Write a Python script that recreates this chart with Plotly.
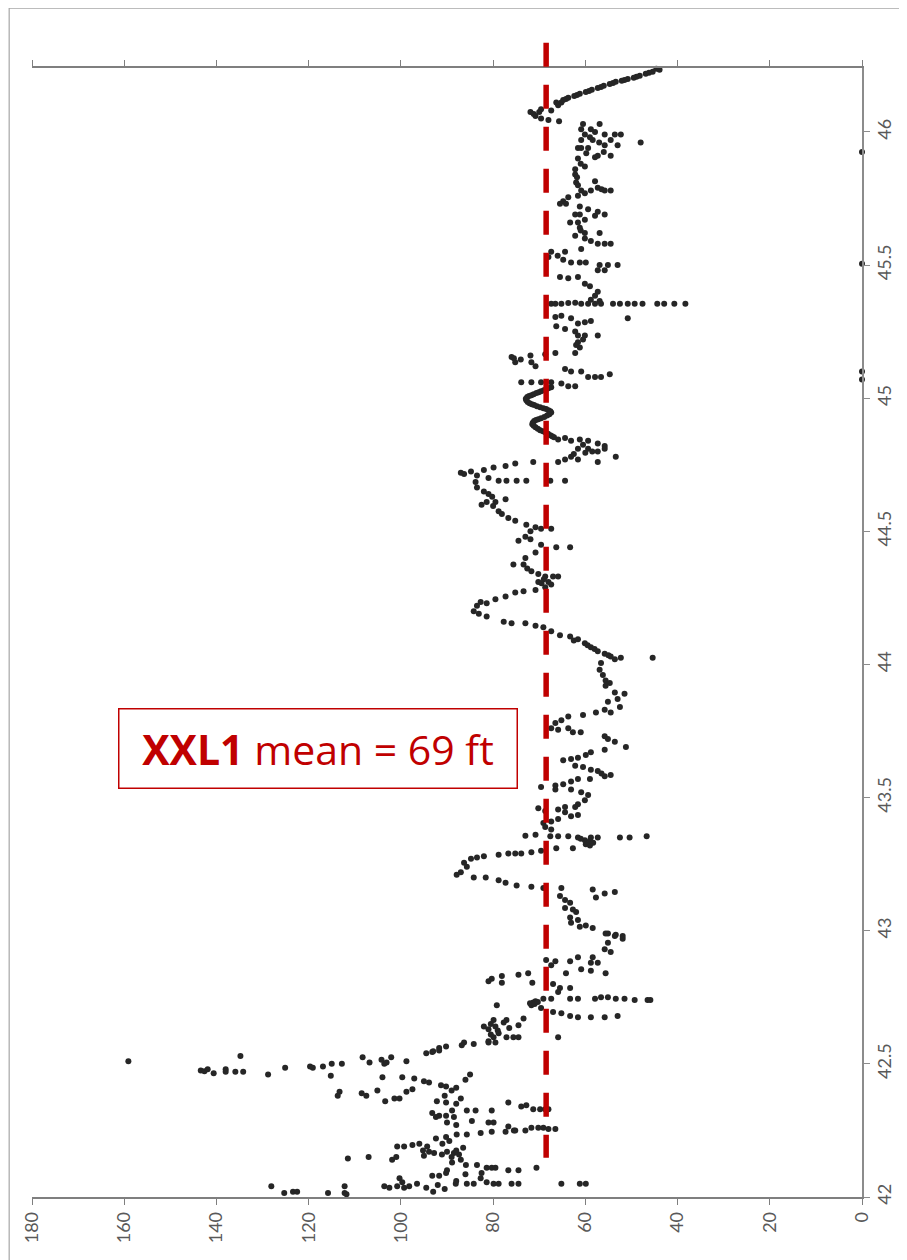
import plotly.graph_objects as go

# ---------------- data: (depth, value) pairs ----------------
TOP_CURVE = [(46.241, 42.4), (46.237, 44.6), (46.233, 43.9), (46.226, 45.4), (46.222, 46.2), (46.218, 46.9),
             (46.211, 48.2), (46.207, 48.9), (46.203, 49.5), (46.199, 50.8), (46.195, 51.5), (46.192, 52.1),
             (46.188, 53.4), (46.184, 54.0), (46.180, 54.7), (46.173, 56.0), (46.169, 56.6), (46.165, 57.3),
             (46.158, 58.6), (46.154, 59.2), (46.150, 59.9), (46.143, 61.2), (46.139, 61.8), (46.135, 62.4),
             (46.128, 63.7), (46.124, 64.2), (46.120, 64.8)]

UPPER_KINK = [(46.11, 65.2), (46.10, 65.9), (46.11, 66.3), (46.08, 67.4), (46.085, 69.6), (46.075, 70.0),
              (46.075, 71.9), (46.06, 70.8), (46.05, 69.6), (46.045, 68.0), (46.04, 65.7), (46.067, 71.2)]

UPPER_CLUSTER = [(46.03, 60.5), (46.01, 58.8), (46.03, 56.9), (46.01, 60.9), (45.99, 60.1), (46.0, 57.9),
                 (45.99, 55.8), (45.99, 53.6), (45.99, 52.3), (45.97, 54.5), (45.96, 48.0), (45.97, 60.9),
                 (45.97, 58.4), (45.94, 61.6), (45.94, 60.9), (45.94, 59.4), (45.95, 55.8), (45.91, 57.3),
                 (45.905, 57.9), (45.91, 54.5), (45.90, 61.6), (45.87, 60.1), (45.86, 62.2), (45.84, 62.2),
                 (45.81, 62.0), (45.80, 61.6), (45.815, 57.9), (45.78, 60.9), (45.78, 58.8), (45.79, 57.3),
                 (45.78, 55.8), (45.78, 54.5), (45.77, 60.1), (45.76, 61.6), (45.755, 63.7), (45.74, 64.8),
                 (45.73, 65.5), (45.73, 64.2), (45.72, 61.2), (45.71, 59.4), (45.70, 57.3), (45.69, 55.8),
                 (45.69, 62.2), (45.69, 61.2), (45.685, 57.9), (45.98, 59.0), (45.92, 59.8), (45.96, 57.0),
                 (45.88, 61.0), (45.83, 61.8), (45.785, 56.5), (45.925, 56.0), (45.95, 53.0)]

ZONE_45_5 = [(45.66, 63.3), (45.66, 61.6), (45.67, 60.1), (45.64, 61.2), (45.62, 60.1), (45.62, 56.9),
             (45.61, 62.2), (45.60, 60.1), (45.59, 58.8), (45.58, 57.3), (45.58, 55.8), (45.58, 54.5),
             (45.56, 60.9), (45.55, 67.4), (45.55, 64.4), (45.53, 68.0), (45.52, 64.8), (45.51, 63.1),
             (45.51, 61.2), (45.51, 59.9), (45.50, 56.9), (45.50, 55.1), (45.50, 53.0), (45.48, 57.3),
             (45.48, 55.8), (45.455, 65.5), (45.45, 63.7), (45.455, 61.6), (45.43, 60.1), (45.42, 59.0),
             (45.40, 57.3), (45.385, 57.9), (45.37, 58.8), (45.365, 56.9), (45.63, 61.0), (45.535, 66.0)]

STREAK_45_35 = [(45.355, 67.4), (45.355, 66.5), (45.355, 65.2), (45.357, 63.7), (45.358, 62.2), (45.355, 60.9),
                (45.355, 59.4), (45.355, 57.9), (45.355, 56.6), (45.355, 54.0), (45.355, 52.5), (45.355, 50.8),
                (45.355, 49.3), (45.355, 47.6), (45.355, 44.4), (45.355, 42.9), (45.355, 40.7), (45.355, 38.3)]

ZONE_45_2 = [(45.30, 50.8), (45.31, 65.2), (45.305, 66.5), (45.30, 63.1), (45.28, 61.6), (45.285, 60.1),
             (45.29, 58.8), (45.27, 66.3), (45.26, 64.4), (45.25, 62.2), (45.235, 61.6), (45.235, 60.1),
             (45.235, 57.3), (45.21, 61.6), (45.19, 61.2), (45.17, 62.2), (45.165, 68.7), (45.17, 66.5),
             (45.155, 76.0), (45.135, 75.2), (45.16, 71.9), (45.135, 71.7), (45.12, 70.8), (45.22, 60.5),
             (45.2, 62.0), (45.15, 75.5), (45.145, 74.0),
             (45.11, 64.4), (45.10, 63.1), (45.10, 60.9), (45.08, 59.4), (45.08, 57.9), (45.08, 56.6),
             (45.09, 54.7), (45.06, 73.9), (45.06, 71.7), (45.06, 69.6), (45.06, 67.4), (45.055, 65.2),
             (45.045, 63.7), (45.045, 62.2)]

WAVE_45 = [(45.041, 67.4), (45.0375, 68.0), (45.034, 68.5), (45.030, 69.0), (45.026, 69.6), (45.022, 70.1),
           (45.019, 70.6), (45.015, 71.2), (45.011, 71.7), (45.008, 72.2), (45.004, 72.6), (44.998, 72.9),
           (44.992, 72.8), (44.986, 72.5), (44.981, 72.1), (44.977, 71.6), (44.974, 71.1), (44.970, 70.5),
           (44.966, 69.8), (44.962, 69.1), (44.959, 68.5), (44.955, 68.0), (44.951, 67.6), (44.946, 67.4),
           (44.940, 67.8), (44.935, 68.3), (44.929, 68.9), (44.925, 69.6), (44.921, 70.2), (44.918, 70.7),
           (44.914, 71.1), (44.908, 71.4), (44.902, 71.5), (44.896, 71.2), (44.891, 70.8), (44.885, 70.3),
           (44.880, 69.8), (44.876, 69.2), (44.872, 68.7), (44.866, 68.1), (44.861, 67.6), (44.857, 67.2),
           (44.853, 66.8)]

ZONE_44_8 = [(44.845, 65.9), (44.85, 64.4), (44.84, 63.1), (44.845, 61.2), (44.84, 59.4), (44.83, 57.3),
             (44.82, 55.8), (44.81, 61.6), (44.81, 59.4), (44.80, 57.3), (44.81, 55.8), (44.78, 53.4),
             (44.77, 64.4), (44.78, 63.1), (44.77, 61.6), (44.76, 57.3), (44.76, 65.9), (44.76, 71.3),
             (44.755, 75.2), (44.745, 77.3), (44.74, 79.9), (44.73, 82.0), (44.725, 84.8), (44.72, 87.0),
             (44.715, 86.3), (44.71, 83.5), (44.70, 81.0), (44.69, 78.8), (44.69, 77.1), (44.69, 74.9),
             (44.69, 72.8), (44.69, 67.6), (44.69, 64.4), (44.795, 60.0), (44.825, 60.5), (44.79, 62.5),
             (44.80, 58.5)]

ZIGZAG_44_4 = [(44.685, 83.8), (44.665, 83.5), (44.65, 82.0), (44.64, 81.0), (44.61, 79.5), (44.62, 77.3),
               (44.61, 81.4), (44.60, 82.5), (44.575, 78.8), (44.565, 78.1), (44.55, 76.7), (44.54, 75.2),
               (44.525, 72.8), (44.515, 70.8), (44.51, 69.6), (44.51, 67.4), (44.50, 71.9), (44.48, 73.0),
               (44.465, 74.5), (44.47, 71.9), (44.45, 69.6), (44.44, 66.3), (44.44, 63.3), (44.42, 70.8),
               (44.40, 73.0), (44.375, 75.6), (44.375, 73.4), (44.35, 71.7), (44.34, 70.2), (44.33, 68.7),
               (44.33, 67.0), (44.31, 68.0), (44.33, 65.9), (44.31, 70.2), (44.30, 67.4), (44.29, 68.7),
               (44.28, 70.8), (44.275, 73.4), (44.27, 75.2), (44.255, 77.3), (44.245, 79.5), (44.23, 81.4),
               (44.235, 82.7), (44.22, 83.5), (44.20, 84.2), (44.19, 83.1), (44.18, 81.4), (44.16, 77.7),
               (44.155, 76.0), (44.155, 73.0), (44.145, 70.8), (44.14, 69.1), (44.125, 67.4), (44.11, 65.5),
               (44.105, 63.3), (44.095, 61.6), (44.08, 60.1), (44.065, 58.8), (44.05, 57.3), (44.04, 55.8),
               (44.03, 54.5), (44.02, 53.6), (44.025, 52.3), (44.025, 45.4), (44.32, 69.0), (44.305, 69.5),
               (44.595, 80.0), (44.63, 80.2), (44.36, 72.6), (44.09, 62.5), (44.072, 59.5), (44.058, 58.0),
               (44.035, 55.0)]

ZONE_43_5 = [(44.005, 56.6), (43.98, 56.9), (43.96, 56.2), (43.94, 55.6), (43.93, 54.7), (43.92, 55.6),
             (43.895, 53.6), (43.89, 51.5), (43.87, 53.0), (43.86, 55.1), (43.83, 55.8), (43.82, 54.5),
             (43.84, 52.5), (43.82, 57.7), (43.81, 60.5), (43.805, 63.7), (43.79, 65.2), (43.78, 66.5),
             (43.76, 67.4), (43.755, 65.9), (43.76, 63.7), (43.745, 62.7), (43.73, 55.8), (43.72, 55.1),
             (43.71, 53.6), (43.69, 51.2), (43.68, 55.8), (43.67, 58.8), (43.66, 59.9), (43.65, 61.6),
             (43.645, 63.1), (43.64, 64.8), (43.62, 62.2), (43.615, 60.5), (43.605, 58.8), (43.60, 57.3),
             (43.58, 55.8), (43.585, 54.5), (43.57, 59.0), (43.57, 61.6), (43.56, 63.1), (43.55, 64.8),
             (43.545, 66.5), (43.54, 69.6), (43.53, 66.5), (43.53, 63.1), (43.52, 60.9), (43.51, 59.4),
             (43.49, 60.1), (43.475, 61.6), (43.465, 62.2), (43.465, 64.4), (43.455, 65.9), (43.46, 70.2),
             (43.45, 68.7), (43.445, 64.4), (43.43, 63.1), (43.435, 61.6), (43.42, 65.9), (43.41, 67.4),
             (43.405, 69.1), (43.39, 68.7), (43.38, 67.4), (43.36, 70.8), (43.357, 73.0), (43.355, 67.6),
             (43.355, 65.9), (43.355, 63.7), (43.35, 61.6), (43.34, 60.1), (43.35, 58.8), (43.35, 57.3),
             (43.35, 52.5), (43.35, 50.4), (43.355, 46.7), (43.325, 59.9), (43.32, 59.0), (43.31, 62.7),
             (43.31, 66.3), (43.745, 61.0), (43.59, 56.5), (43.338, 59.0), (43.33, 58.3), (43.345, 61.0)]

SWING_43_2 = [(43.30, 69.6), (43.295, 71.7), (43.29, 73.9), (43.29, 75.2), (43.29, 76.7), (43.285, 78.8),
              (43.28, 82.0), (43.275, 83.5), (43.27, 84.8), (43.255, 86.3), (43.24, 85.7), (43.22, 87.0),
              (43.21, 87.9), (43.20, 84.2), (43.20, 81.6), (43.19, 78.8), (43.18, 77.3), (43.17, 74.9),
              (43.165, 71.7), (43.16, 69.1), (43.16, 65.2), (43.13, 65.5), (43.115, 64.4), (43.105, 63.3),
              (43.085, 64.4), (43.08, 62.7), (43.07, 62.0), (43.05, 63.3), (43.04, 61.6), (43.03, 63.1),
              (43.015, 61.2), (43.02, 59.9), (43.01, 58.4), (43.155, 58.4), (43.125, 57.7), (43.14, 55.8),
              (43.145, 53.6)]

ZONE_42_8 = [(42.99, 55.1), (42.985, 53.4), (42.98, 51.9), (42.97, 51.9), (42.955, 55.1), (42.93, 55.8),
             (42.92, 54.5), (42.99, 55.6), (42.98, 53.6), (42.89, 68.5), (42.885, 66.5), (42.87, 67.4),
             (42.885, 63.3), (42.90, 61.6), (42.90, 58.4), (42.88, 58.8), (42.88, 57.3), (42.855, 60.9),
             (42.85, 58.8), (42.84, 55.6), (42.84, 64.2), (42.82, 80.3), (42.81, 81.0), (42.83, 78.1),
             (42.805, 78.1), (42.835, 74.5), (42.84, 72.4), (42.805, 71.5), (42.80, 67.0), (42.785, 65.5),
             (42.785, 63.3), (42.77, 65.9), (42.73, 71.3), (42.72, 71.7), (42.735, 70.8), (42.745, 69.1),
             (42.745, 67.4), (42.745, 63.3), (42.745, 61.6), (42.745, 57.9), (42.75, 56.6), (42.75, 55.1),
             (42.745, 53.4), (42.745, 51.5), (42.74, 49.3), (42.74, 46.5), (42.74, 45.9), (42.71, 69.6),
             (42.695, 67.0), (42.69, 65.2), (42.68, 63.3), (42.675, 61.6), (42.675, 58.8), (42.675, 55.8),
             (42.68, 53.0), (42.72, 79.2), (42.67, 73.4), (42.645, 74.5), (42.665, 77.1), (42.655, 77.7),
             (42.665, 79.9), (42.64, 82.0), (42.63, 81.0), (42.64, 79.5), (42.615, 78.8), (42.60, 79.9),
             (42.60, 75.6), (42.60, 74.5), (42.60, 77.1), (42.585, 81.0), (42.60, 65.9), (42.728, 72.0),
             (42.725, 71.0), (42.732, 70.3), (42.65, 80.5), (42.625, 79.0), (42.635, 76.5), (42.61, 80.5)]

BOTTOM_SPREAD = [(42.575, 84.2), (42.58, 86.3), (42.565, 90.2), (42.56, 91.7), (42.545, 93.2), (42.54, 94.5),
                 (42.51, 98.8), (42.525, 102.1), (42.50, 103.6), (42.51, 159.1), (42.475, 143.4),
                 (42.472, 142.6), (42.48, 141.9), (42.465, 140.6), (42.48, 138.0), (42.47, 138.0),
                 (42.47, 135.9), (42.47, 134.2), (42.53, 134.8), (42.46, 128.8), (42.485, 125.1),
                 (42.49, 119.7), (42.485, 119.1), (42.49, 116.9), (42.50, 115.0), (42.50, 112.8),
                 (42.455, 115.2), (42.525, 108.3), (42.505, 106.8), (42.515, 104.2), (42.505, 103.1),
                 (42.547, 93.0), (42.55, 91.7), (42.45, 104.0), (42.45, 99.7), (42.445, 97.1), (42.435, 95.0),
                 (42.43, 93.9), (42.42, 91.3), (42.415, 90.2), (42.395, 113.3), (42.38, 113.7), (42.39, 108.5),
                 (42.38, 107.5), (42.40, 105.1), (42.36, 103.4), (42.37, 101.4), (42.37, 100.3), (42.395, 98.8),
                 (42.405, 97.5), (42.36, 92.2), (42.355, 90.2), (42.315, 93.2), (42.305, 91.7), (42.30, 92.4),
                 (42.305, 90.2), (42.22, 92.4), (42.225, 90.2), (42.19, 100.8), (42.19, 99.3), (42.195, 97.5),
                 (42.20, 96.0), (42.19, 94.3), (42.175, 95.2), (42.17, 93.9), (42.165, 92.8), (42.16, 91.1),
                 (42.155, 95.0), (42.145, 111.5), (42.15, 107.0), (42.14, 101.9), (42.15, 101.0), (42.08, 93.2),
                 (42.08, 91.7), (42.09, 90.2), (42.07, 100.3), (42.055, 99.7), (42.04, 100.8), (42.035, 99.3),
                 (42.04, 98.2), (42.05, 96.5), (42.035, 94.5), (42.04, 103.6), (42.035, 102.5), (42.04, 128.1),
                 (42.015, 125.3), (42.02, 123.4), (42.02, 122.5), (42.015, 115.8), (42.04, 112.2),
                 (42.015, 112.2), (42.01, 111.8)]

BOTTOM_NEAR_MEAN = [(42.57, 86.8), (42.58, 81.0), (42.58, 79.5), (42.355, 76.7), (42.34, 73.9), (42.345, 72.8),
                    (42.33, 71.3), (42.33, 69.8), (42.33, 68.7), (42.33, 68.0), (42.325, 88.9), (42.325, 85.7),
                    (42.325, 83.8), (42.325, 80.3), (42.30, 88.5), (42.285, 84.6), (42.28, 81.0), (42.28, 79.9),
                    (42.265, 76.7), (42.25, 75.2), (42.25, 73.0), (42.26, 71.7), (42.26, 70.2), (42.26, 69.1),
                    (42.255, 68.0), (42.255, 66.5), (42.235, 87.9), (42.235, 85.7), (42.24, 82.7), (42.245, 80.3),
                    (42.245, 77.3), (42.25, 75.5), (42.165, 88.5), (42.16, 87.4), (42.13, 88.9), (42.12, 85.9),
                    (42.09, 82.5), (42.11, 81.4), (42.11, 80.3), (42.11, 79.5), (42.10, 76.7), (42.10, 74.5),
                    (42.11, 70.6), (42.07, 82.7), (42.055, 81.4), (42.05, 79.9), (42.05, 78.8), (42.05, 76.0),
                    (42.05, 74.5), (42.05, 85.7), (42.05, 84.2), (42.05, 88.1), (42.05, 65.2), (42.05, 61.2),
                    (42.05, 59.9), (42.17, 90.0), (42.15, 89.0), (42.14, 87.0), (42.175, 88.0), (42.20, 91.0),
                    (42.21, 89.5), (42.185, 86.5), (42.28, 90.0), (42.27, 88.0), (42.35, 88.0), (42.37, 87.0),
                    (42.40, 89.0), (42.41, 88.0), (42.44, 86.0), (42.46, 85.0), (42.38, 90.5), (42.12, 83.5),
                    (42.085, 86.0), (42.06, 88.0), (42.10, 90.0), (42.03, 90.5), (42.02, 93.0), (42.045, 92.0)]

ZERO_READINGS = [(45.925, 0.0), (45.505, 0.0), (45.10, 0.0), (45.07, 0.0)]

SEGMENTS = [TOP_CURVE, UPPER_KINK, UPPER_CLUSTER, ZONE_45_5, STREAK_45_35, ZONE_45_2, WAVE_45,
            ZONE_44_8, ZIGZAG_44_4, ZONE_43_5, SWING_43_2, ZONE_42_8, BOTTOM_SPREAD, BOTTOM_NEAR_MEAN,
            ZERO_READINGS]

MEAN_VALUE = 68.5          # position of the dashed mean line as drawn (labelled "69 ft")
MEAN_LINE_DEPTHS = [42.147, 46.335]
VALUE_RANGE = [180, 0]
DEPTH_RANGE = [42, 46.24]
VALUE_TICKS = [0, 20, 40, 60, 80, 100, 120, 140, 160, 180]
DEPTH_TICKS = [42, 42.5, 43, 43.5, 44, 44.5, 45, 45.5, 46]

depths = [d for seg in SEGMENTS for d, v in seg]
values = [v for seg in SEGMENTS for d, v in seg]

RED = "#C00000"
TICK_FONT = dict(family="Lato, 'Open Sans', sans-serif", size=18, color="#595959")

fig = go.Figure()
fig.add_trace(go.Scatter(
    x=values, y=depths, mode="markers",
    marker=dict(size=6, color="#262626", line=dict(width=0)),
    cliponaxis=False, showlegend=False, hoverinfo="x+y",
))


def xpaper(v):
    return (v - VALUE_RANGE[0]) / (VALUE_RANGE[1] - VALUE_RANGE[0])


def ypaper(d):
    return (d - DEPTH_RANGE[0]) / (DEPTH_RANGE[1] - DEPTH_RANGE[0])


# dashed mean line
fig.add_shape(type="line", xref="paper", yref="paper",
              x0=xpaper(MEAN_VALUE), x1=xpaper(MEAN_VALUE),
              y0=ypaper(MEAN_LINE_DEPTHS[1]), y1=ypaper(MEAN_LINE_DEPTHS[0]),
              line=dict(color=RED, width=5.5, dash="24px,18px"), layer="above")

# outer chart frame (partially cropped in the reference)
fig.add_shape(type="rect", xref="paper", yref="paper",
              x0=-0.0275, x1=1.08, y0=-0.08, y1=1.0531,
              line=dict(color="#a6a6a6", width=1.2), fillcolor="rgba(0,0,0,0)", layer="below")

fig.add_annotation(
    xref="paper", yref="paper", x=0.3445, y=0.397, xanchor="center", yanchor="middle",
    text="<b>XXL1</b> mean = 69 ft", showarrow=False,
    font=dict(family="'Open Sans', sans-serif", size=41, color=RED),
    bordercolor=RED, borderwidth=1.5, borderpad=1, bgcolor="white",
    width=395, height=76,
)

# the page adds an 8px body margin, so the figure is 8px smaller than the window
fig.update_layout(
    width=899, height=1252,
    margin=dict(l=22, r=41, t=60, b=63),
    paper_bgcolor="white", plot_bgcolor="white",
    xaxis=dict(range=VALUE_RANGE, tickvals=VALUE_TICKS, ticktext=[str(t) for t in VALUE_TICKS],
               tickangle=-90, ticks="outside", ticklen=6, tickcolor="#7f7f7f", tickwidth=1.2,
               showline=True, linecolor="#7f7f7f", linewidth=1.5, mirror="ticks",
               showgrid=False, zeroline=False, tickfont=TICK_FONT, fixedrange=True),
    yaxis=dict(range=DEPTH_RANGE, side="right", tickvals=DEPTH_TICKS,
               ticktext=[f"{t:g}" for t in DEPTH_TICKS],
               tickangle=-90, ticks="outside", ticklen=6, tickcolor="#8c8c8c", tickwidth=1.2,
               showline=True, linecolor="#8c8c8c", linewidth=1.5, mirror=False,
               showgrid=False, zeroline=False, tickfont=TICK_FONT, fixedrange=True),
)

fig.write_html("out.html")
